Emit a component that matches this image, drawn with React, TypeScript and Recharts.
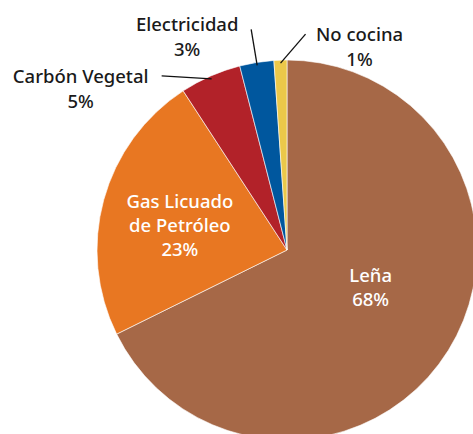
import React from "react";
import { Cell, Pie, PieChart } from "recharts";

const categories = ["Leña", "Gas Licuado de Petróleo", "Carbón Vegetal", "Electricidad", "No cocina"];
const shares = [67.7, 23.1, 5.2, 2.9, 1.1];
const colors = ["#A66847", "#E87722", "#B22229", "#00579E", "#EBC84A"];

const data = categories.map((name, i) => ({ name, value: shares[i] }));

// label placement per slice: inside labels sit on the mid ray, outside ones get a leader line
const labelLayout = [
  { inside: true, r: 95, dx: 3, dy: -14, lines: ["Leña"] },
  { inside: true, r: 110, dx: -1, dy: 4, lines: ["Gas Licuado", "de Petróleo"] },
  { inside: false, lineEnd: [-50, -3], text: [-131, -3], lines: ["Carbón Vegetal"] },
  { inside: false, lineEnd: [-6, -36], text: [-70, -42], lines: ["Electricidad"] },
  { inside: false, lineEnd: [25, -29], text: [79, -30], lines: ["No cocina"] },
];

const FONT = "'Noto Sans', sans-serif";
const RAD = Math.PI / 180;

function renderLabel(props: any) {
  const { cx, cy, midAngle, outerRadius, index, value } = props;
  const cfg = labelLayout[index];
  const pct = `${Math.round(value)}%`;
  const rows = [...cfg.lines, pct];
  const lh = 24;
  if (cfg.inside) {
    const x = cx + cfg.r * Math.cos(-midAngle * RAD) + cfg.dx;
    const y = cy + cfg.r * Math.sin(-midAngle * RAD) + cfg.dy;
    const top = y - ((rows.length - 1) * lh) / 2;
    return (
      <text key={index} x={x} y={top} textAnchor="middle" fill="#fff" fontFamily={FONT} fontSize={18.5} fontWeight={500}>
        {rows.map((t, i) => (
          <tspan key={i} x={x} y={top + i * lh} dominantBaseline="central">
            {t}
          </tspan>
        ))}
      </text>
    );
  }
  const ax = cx + (outerRadius - 3) * Math.cos(-midAngle * RAD);
  const ay = cy + (outerRadius - 3) * Math.sin(-midAngle * RAD);
  const ex = ax + cfg.lineEnd[0];
  const ey = ay + cfg.lineEnd[1];
  const tx = ax + cfg.text[0];
  const ty = ay + cfg.text[1];
  return (
    <g key={index}>
      <line x1={ax} y1={ay} x2={ex} y2={ey} stroke="#111" strokeWidth={1.3} />
      <text x={tx} y={ty} textAnchor="middle" fill="#1a1a1a" fontFamily={FONT} fontSize={18.5} fontWeight={500}>
        {rows.map((t, i) => (
          <tspan key={i} x={tx} y={ty + i * 25} dominantBaseline="central">
            {t}
          </tspan>
        ))}
      </text>
    </g>
  );
}

export default function App() {
  return (
    <div style={{ position: "absolute", left: 0, top: 0, width: 473, height: 434, background: "#fff" }}>
      <PieChart width={473} height={434} margin={{ top: 0, right: 0, bottom: 0, left: 0 }}>
        <Pie
          data={data}
          dataKey="value"
          nameKey="name"
          cx={287}
          cy={250}
          outerRadius={190}
          startAngle={90}
          endAngle={-270}
          stroke="#fff"
          strokeWidth={0.6}
          label={renderLabel}
          labelLine={false}
          isAnimationActive={false}
        >
          {data.map((d, i) => (
            <Cell key={d.name} fill={colors[i]} />
          ))}
        </Pie>
      </PieChart>
    </div>
  );
}
